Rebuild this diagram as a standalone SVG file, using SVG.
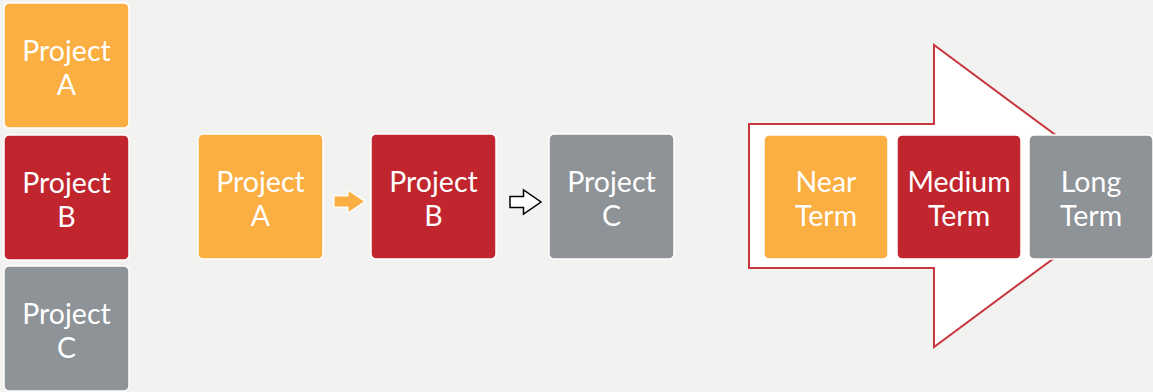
<svg xmlns="http://www.w3.org/2000/svg" width="1153" height="392" viewBox="0 0 1153 392">
  <style>
    .box { stroke: #ffffff; stroke-width: 1.5; }
    .orange { fill: #FBAE42; }
    .red { fill: #C1252E; }
    .gray { fill: #8E9398; }
    .lbl { font-family: Lato, "Open Sans", sans-serif; font-size: 28.5px; fill: #ffffff; text-anchor: middle; }
  </style>
  <rect width="1153" height="392" fill="#F2F2F0"/>

  <!-- large outlined arrow behind the timeline boxes -->
  <path d="M749,124 H934 V45 L1138,196 L934,347 V268 H749 Z" fill="#ffffff" stroke="#C8363E" stroke-width="2"/>

  <!-- stacked projects -->
  <g id="stack-a">
    <rect class="box orange" x="4" y="3" width="125" height="125" rx="5"/>
    <text class="lbl" x="66.5" y="61">Project</text>
    <text class="lbl" x="66.5" y="95">A</text>
  </g>
  <g id="stack-b">
    <rect class="box red" x="4" y="135" width="125" height="125" rx="5"/>
    <text class="lbl" x="66.5" y="193">Project</text>
    <text class="lbl" x="66.5" y="227">B</text>
  </g>
  <g id="stack-c">
    <rect class="box gray" x="4" y="266" width="125" height="125" rx="5"/>
    <text class="lbl" x="66.5" y="324">Project</text>
    <text class="lbl" x="66.5" y="358">C</text>
  </g>

  <!-- project sequence -->
  <g id="seq-a">
    <rect class="box orange" x="198" y="134" width="125" height="125" rx="5"/>
    <text class="lbl" x="260.5" y="192">Project</text>
    <text class="lbl" x="260.5" y="226">A</text>
  </g>
  <g id="seq-b">
    <rect class="box red" x="371" y="134" width="125" height="125" rx="5"/>
    <text class="lbl" x="433.5" y="192">Project</text>
    <text class="lbl" x="433.5" y="226">B</text>
  </g>
  <g id="seq-c">
    <rect class="box gray" x="549" y="134" width="125" height="125" rx="5"/>
    <text class="lbl" x="611.5" y="192">Project</text>
    <text class="lbl" x="611.5" y="226">C</text>
  </g>

  <!-- timeline -->
  <g id="near-term">
    <rect class="box orange" x="764" y="135" width="124" height="124" rx="5"/>
    <text class="lbl" x="826" y="192">Near</text>
    <text class="lbl" x="826" y="226">Term</text>
  </g>
  <g id="medium-term">
    <rect class="box red" x="897" y="135" width="124" height="124" rx="5"/>
    <text class="lbl" x="959" y="192">Medium</text>
    <text class="lbl" x="959" y="226">Term</text>
  </g>
  <g id="long-term">
    <rect class="box gray" x="1029" y="135" width="124" height="124" rx="5"/>
    <text class="lbl" x="1091" y="192">Long</text>
    <text class="lbl" x="1091" y="226">Term</text>
  </g>

  <!-- connectors between sequence boxes -->
  <g id="connectors">
    <path d="M334,196 H348 V190 L365,201.5 L348,213 V207 H334 Z" fill="#FBAE42" stroke="#ffffff" stroke-width="1.2"/>
    <path d="M510,196.5 H523.5 V190 L541,202 L523.5,214 V207.5 H510 Z" fill="#ffffff" stroke="#000000" stroke-width="1.5" stroke-linejoin="miter"/>
  </g>
</svg>
